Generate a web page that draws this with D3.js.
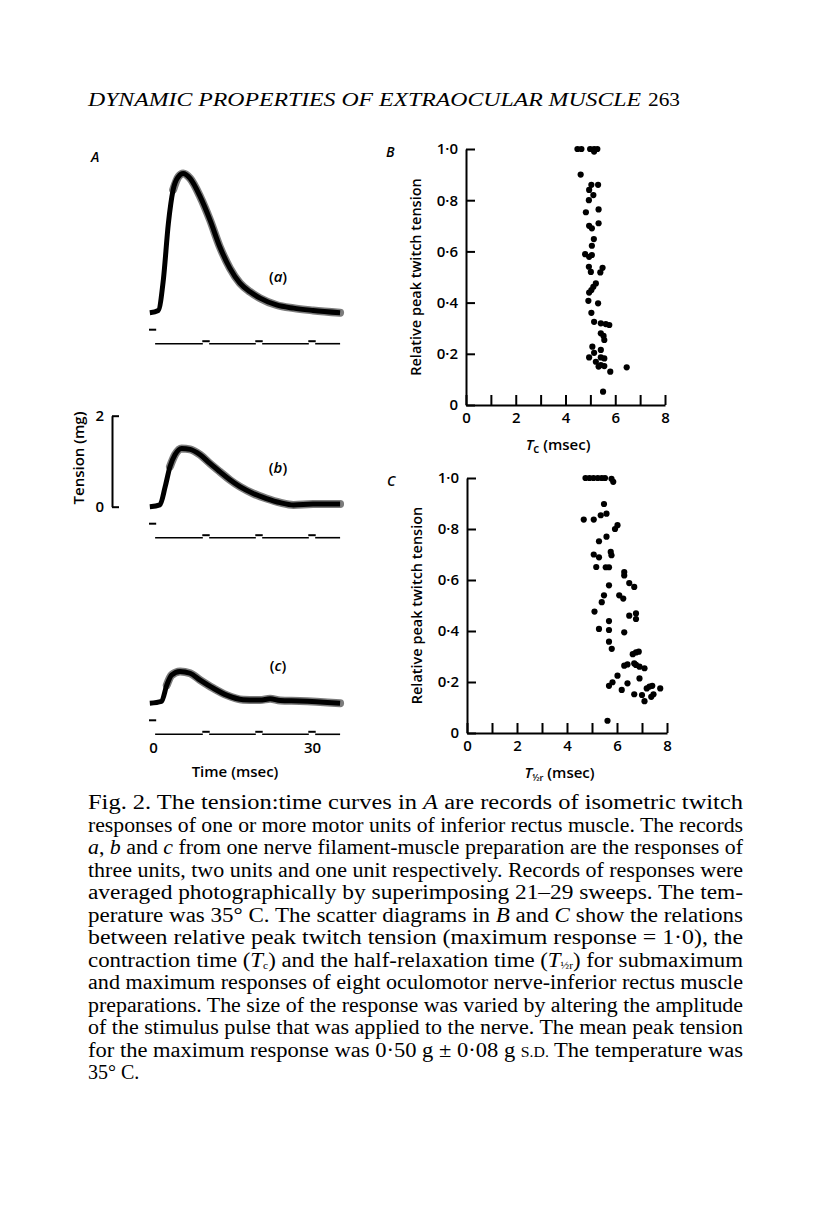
<!DOCTYPE html>
<html>
<head>
<meta charset="utf-8">
<script src="https://cdn.jsdelivr.net/npm/d3@7"></script>
<style>
  body { margin: 0; background: #fff; }
  svg { display: block; }
  .sans { font-family: "Open Sans", "DejaVu Sans", sans-serif; font-weight: 600; }
  .serif { font-family: "Liberation Serif", "DejaVu Serif", serif; }
</style>
</head>
<body>
<script>
// ---- panel A: twitch records (time in msec, tension in mg) ----
var timeA = [-0.6, 1.0, 1.95, 2.9, 3.8, 4.8, 5.7, 7.0, 8.9, 10.75, 12.6, 14.5, 16.4, 18.3, 20.2, 23.3, 26.5, 30.2, 35.3];
var tensionA = [0, 0.05, 0.72, 1.96, 2.7, 2.99, 3.06, 2.95, 2.55, 2.04, 1.45, 0.98, 0.65, 0.46, 0.32, 0.17, 0.10, 0.05, 0.0];
var timeB = [-0.6, 1.3, 2.3, 3.2, 4.15, 5.4, 7.0, 8.9, 10.75, 12.6, 14.5, 16.4, 18.9, 21.4, 24.0, 26.5, 30.2, 35.3];
var tensionB = [0, 0.04, 0.44, 0.88, 1.14, 1.28, 1.26, 1.14, 0.95, 0.77, 0.59, 0.44, 0.29, 0.18, 0.09, 0.04, 0.06, 0.06];
var timeC = [-0.6, 1.6, 2.6, 3.5, 5.1, 7.0, 8.9, 11.4, 13.9, 17.0, 20.2, 22.1, 24.0, 27.7, 35.3];
var tensionC = [0, 0.04, 0.40, 0.62, 0.70, 0.66, 0.51, 0.33, 0.18, 0.08, 0.07, 0.10, 0.06, 0.05, 0.0];
var timeMarks = [10, 20, 30];
var scaleBarTicks = [0, 2];
var timeTicks = [0, 30];

// ---- panel B: contraction time vs relative peak tension ----
var tcB = [4.48, 4.64, 4.99, 5.15, 5.28, 5.15, 4.61, 5.04, 5.31, 4.95, 5.12, 4.94, 4.82, 5.33, 4.95,
           5.06, 5.33, 5.14, 5.06, 4.79, 4.95, 5.06, 4.94, 5.02, 5.49, 5.40, 5.22, 5.12, 4.95, 5.04,
           4.92, 5.31, 5.04, 5.15, 5.42, 5.62, 5.76, 5.42, 5.53, 5.56, 5.08, 5.42, 5.15, 4.95, 5.42,
           5.56, 5.22, 5.42, 5.56, 5.33, 5.80, 6.46, 5.51];
var relB = [1.0, 1.0, 1.0, 1.0, 1.0, 0.99, 0.90, 0.86, 0.86, 0.84, 0.82, 0.80, 0.753, 0.764, 0.70,
            0.69, 0.71, 0.648, 0.622, 0.589, 0.579, 0.586, 0.54, 0.52, 0.536, 0.518, 0.475, 0.462, 0.439, 0.449,
            0.407, 0.397, 0.36, 0.325, 0.319, 0.316, 0.3125, 0.28, 0.27, 0.254, 0.228, 0.215, 0.204, 0.186, 0.186,
            0.182, 0.169, 0.156, 0.152, 0.15, 0.13, 0.147, 0.052];

// ---- panel C: half-relaxation time vs relative peak tension ----
var thrC = [4.74, 4.9, 5.06, 5.23, 5.39, 5.52, 5.78, 5.85, 5.48, 4.67, 5.07, 5.35, 5.58, 5.92, 6.02,
            5.28, 5.58, 5.07, 5.28, 5.75, 5.78, 5.17, 5.55, 5.68, 6.29, 6.29, 5.68, 6.49, 6.69, 5.48,
            5.39, 6.09, 6.25, 5.1, 6.76, 6.76, 5.68, 6.49, 5.28, 5.68, 6.29, 5.68, 5.79, 6.63, 6.76,
            6.87, 6.29, 6.42, 6.69, 6.76, 6.9, 7.1, 6.02, 6.9, 5.82, 5.68, 6.42, 6.19, 6.69, 7.3,
            7.41, 7.19, 7.73, 7.0, 7.1, 7.46, 7.37, 5.62];
var relC = [1.0, 1.0, 1.0, 1.0, 1.0, 1.0, 0.997, 0.985, 0.898, 0.837, 0.837, 0.854, 0.86, 0.80, 0.815,
            0.752, 0.77, 0.70, 0.689, 0.71, 0.697, 0.651, 0.65, 0.65, 0.631, 0.618, 0.579, 0.588, 0.573, 0.54,
            0.513, 0.54, 0.527, 0.476, 0.469, 0.447, 0.439, 0.46, 0.408, 0.404, 0.395, 0.358, 0.33, 0.309, 0.316,
            0.319, 0.264, 0.269, 0.273, 0.267, 0.26, 0.254, 0.225, 0.214, 0.199, 0.185, 0.195, 0.169, 0.152, 0.182,
            0.185, 0.175, 0.175, 0.149, 0.125, 0.152, 0.142, 0.048];

var scatterXTicks = [0, 1, 2, 3, 4, 5, 6, 7, 8];
var scatterYTicks = [0, 0.2, 0.4, 0.6, 0.8, 1.0];

// ---- page text ----
var headerText = "DYNAMIC PROPERTIES OF EXTRAOCULAR MUSCLE";
var pageNumber = "263";
var captionLines = [
  [["Fig. 2. The tension:time curves in "], ["A", "i"], [" are records of isometric twitch"]],
  [["responses of one or more motor units of inferior rectus muscle. The records"]],
  [["a", "i"], [", "], ["b", "i"], [" and "], ["c", "i"], [" from one nerve filament-muscle preparation are the responses of"]],
  [["three units, two units and one unit respectively. Records of responses were"]],
  [["averaged photographically by superimposing 21\u201329 sweeps. The tem-"]],
  [["perature was 35\u00b0 C. The scatter diagrams in "], ["B", "i"], [" and "], ["C", "i"], [" show the relations"]],
  [["between relative peak twitch tension (maximum response = 1\u00b70), the"]],
  [["contraction time ("], ["T", "i"], ["c", "sub"], [") and the half-relaxation time ("], ["T", "i"], ["\u00bdr", "sub"], [") for submaximum"]],
  [["and maximum responses of eight oculomotor nerve-inferior rectus muscle"]],
  [["preparations. The size of the response was varied by altering the amplitude"]],
  [["of the stimulus pulse that was applied to the nerve. The mean peak tension"]],
  [["for the maximum response was 0\u00b750 g \u00b1 0\u00b708 g "], ["S.D.", "sc"], [" The temperature was"]],
  [["35\u00b0 C."]]
];

var svg = d3.select("body").append("svg")
    .attr("width", 816)
    .attr("height", 1221);
svg.append("rect").attr("width", 816).attr("height", 1221).attr("fill", "#fff");

// header
svg.append("text").attr("class", "serif")
    .attr("x", 88).attr("y", 106)
    .attr("font-size", 19.5).attr("font-style", "italic")
    .attr("textLength", 553).attr("lengthAdjust", "spacingAndGlyphs")
    .text(headerText);
svg.append("text").attr("class", "serif")
    .attr("x", 648).attr("y", 106)
    .attr("font-size", 19.5)
    .attr("textLength", 32).attr("lengthAdjust", "spacingAndGlyphs")
    .text(pageNumber);

// ================= panel A =================
var xA = d3.scaleLinear().domain([0, 30]).range([153, 312]);
var gA = svg.append("g");

gA.append("text").attr("class", "sans")
    .attr("x", 91).attr("y", 162).attr("font-size", 14).attr("font-style", "italic")
    .text("A");

var drawTrace = function (ts, vs, base, name) {
    var y = d3.scaleLinear().domain([0, 2]).range([base, base - 91]);
    var pts = ts.map(function (t, i) { return [t, vs[i]]; });
    var peak = d3.maxIndex(vs);
    var line = d3.line()
        .x(function (d) { return xA(d[0]); })
        .y(function (d) { return y(d[1]); })
        .curve(d3.curveMonotoneX);
    // band of superimposed sweeps
    gA.append("path")
        .attr("d", line(pts.slice(peak - 2)))
        .attr("fill", "none").attr("stroke", "#111")
        .attr("stroke-width", 8).attr("stroke-opacity", 0.55)
        .attr("stroke-linejoin", "round").attr("stroke-linecap", "round");
    gA.append("path")
        .attr("d", line(pts))
        .attr("fill", "none").attr("stroke", "#000")
        .attr("stroke-width", 5).attr("stroke-linejoin", "round");

    // stimulus marker
    gA.append("line")
        .attr("x1", xA(-0.75)).attr("x2", xA(0.6))
        .attr("y1", base + 17).attr("y2", base + 17)
        .attr("stroke", "#000").attr("stroke-width", 2);

    // time marker line with 10 msec marks
    var edges = [0.4];
    timeMarks.forEach(function (m) { edges.push(m - 0.6, m + 0.6); });
    edges.push(35.3);
    for (var i = 0; i < edges.length; i += 2) {
        gA.append("line")
            .attr("x1", xA(edges[i])).attr("x2", xA(edges[i + 1]))
            .attr("y1", base + 31).attr("y2", base + 31)
            .attr("stroke", "#000").attr("stroke-width", 1.6);
    }
    timeMarks.forEach(function (m) {
        gA.append("line")
            .attr("x1", xA(m - 0.7)).attr("x2", xA(m + 0.7))
            .attr("y1", base + 28.5).attr("y2", base + 28.5)
            .attr("stroke", "#000").attr("stroke-width", 2);
    });

    var lab = gA.append("text").attr("class", "sans")
        .attr("x", 278).attr("y", y(0) - (name === "a" ? 31 : name === "b" ? 34 : 32))
        .attr("text-anchor", "middle").attr("font-size", 15);
    lab.append("tspan").text("(");
    lab.append("tspan").attr("font-style", "italic").text(name);
    lab.append("tspan").text(")");
    return y;
};

drawTrace(timeA, tensionA, 312.7, "a");
var yTb = drawTrace(timeB, tensionB, 506.7, "b");
drawTrace(timeC, tensionC, 703.3, "c");

// 2 mg calibration bar
var barAxis = gA.append("g")
    .attr("transform", "translate(112,0)")
    .call(d3.axisLeft(yTb).tickValues(scaleBarTicks).tickFormat(d3.format("d"))
        .tickSize(-7).tickSizeOuter(0).tickPadding(8));
barAxis.select(".domain").attr("stroke-width", 2);
barAxis.selectAll(".tick line").attr("stroke-width", 2);
barAxis.selectAll("text").attr("class", "sans").attr("font-size", 15).attr("fill", "#000");

gA.append("text").attr("class", "sans")
    .attr("transform", "translate(84,458) rotate(-90)")
    .attr("text-anchor", "middle").attr("font-size", 15)
    .text("Tension (mg)");

// time labels
var tAxis = gA.append("g")
    .attr("transform", "translate(0,742)")
    .call(d3.axisBottom(xA).tickValues(timeTicks).tickSize(0).tickPadding(0));
tAxis.select(".domain").remove();
tAxis.selectAll("text").attr("class", "sans").attr("font-size", 15).attr("fill", "#000");

gA.append("text").attr("class", "sans")
    .attr("x", 235).attr("y", 777)
    .attr("text-anchor", "middle").attr("font-size", 15)
    .text("Time (msec)");

// ================= scatter panels =================
var yFmt = function (d) { return d === 0 ? "0" : d3.format(".1f")(d).replace(".", "\u00b7"); };

var drawScatter = function (xs, ys, x0, x8, y0, y1, letter, sub) {
    var x = d3.scaleLinear().domain([0, 8]).range([x0, x8]);
    var y = d3.scaleLinear().domain([0, 1]).range([y0, y1]);
    var g = svg.append("g");

    var ya = g.append("g")
        .attr("transform", "translate(" + x(0) + ",0)")
        .call(d3.axisLeft(y).tickValues(scatterYTicks).tickFormat(yFmt)
            .tickSize(-9).tickSizeOuter(0).tickPadding(8));
    var xa = g.append("g")
        .attr("transform", "translate(0," + y(0) + ")")
        .call(d3.axisBottom(x).tickValues(scatterXTicks)
            .tickFormat(function (d) { return d % 2 ? "" : d; })
            .tickSize(-10).tickSizeOuter(0).tickPadding(7));
    [ya, xa].forEach(function (a) {
        a.select(".domain").attr("stroke-width", 2);
        a.selectAll(".tick line").attr("stroke-width", 2);
        a.selectAll("text").attr("class", "sans").attr("font-size", 15).attr("fill", "#000");
    });

    g.selectAll("circle")
        .data(xs.map(function (d, i) { return [d, ys[i]]; }))
        .enter().append("circle")
        .attr("cx", function (d) { return x(d[0]); })
        .attr("cy", function (d) { return y(d[1]); })
        .attr("r", 3.1)
        .attr("fill", "#000");

    g.append("text").attr("class", "sans")
        .attr("x", x0 - 80).attr("y", y1 + 8).attr("font-size", 14).attr("font-style", "italic")
        .text(letter);

    g.append("text").attr("class", "sans")
        .attr("transform", "translate(" + (x0 - 45) + "," + ((y0 + y1) / 2) + ") rotate(-90)")
        .attr("text-anchor", "middle").attr("font-size", 14.5)
        .text("Relative peak twitch tension");

    var t = g.append("text").attr("class", "sans")
        .attr("x", x(3.7)).attr("y", y0 + 45)
        .attr("text-anchor", "middle").attr("font-size", 15);
    t.append("tspan").attr("font-style", "italic").text("T");
    t.append("tspan").attr("dy", 3).attr("font-size", sub === "c" ? 12 : 9).text(sub);
    t.append("tspan").attr("dy", -3).text(sub === "c" ? "  (msec)" : " (msec)");
};

drawScatter(tcB, relB, 466, 665, 405, 149, "B", "c");
drawScatter(thrC, relC, 467, 667, 733, 478, "C", "\u00bdr");

// ================= caption =================
var cap = svg.append("g").attr("class", "serif").attr("font-size", 20);
captionLines.forEach(function (parts, i) {
    var t = cap.append("text")
        .attr("x", 88)
        .attr("y", 809 + i * 22.5);
    if (i < captionLines.length - 1) {
        t.attr("textLength", 655).attr("lengthAdjust", "spacingAndGlyphs");
    }
    parts.forEach(function (p, k) {
        var s = t.append("tspan").text(p[0]);
        if (p[1] === "i") s.attr("font-style", "italic");
        if (p[1] === "sub") s.attr("font-size", 10).attr("dy", 2);
        if (p[1] === "sc") s.attr("font-size", 14);
        // back to the baseline after a subscript
        if (k > 0 && parts[k - 1][1] === "sub" && p[1] !== "sub") s.attr("dy", -2);
    });
});
</script>
</body>
</html>
